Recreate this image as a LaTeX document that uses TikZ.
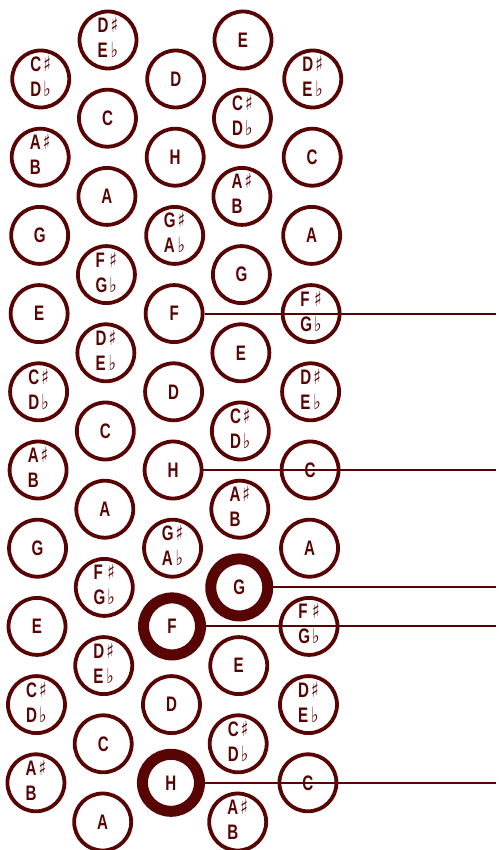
\documentclass[tikz,border=0pt]{standalone}
\usepackage{fontspec}
\setmainfont[FakeStretch=0.72]{Liberation Sans}
\newfontfamily\symf[FakeStretch=0.75]{DejaVu Sans}
\definecolor{ink}{RGB}{88,4,4}
\newcommand\shp{{\symf\bfseries ♯}}
\newcommand\flt{{\symf\bfseries ♭}}
\newcommand\pair[2]{\begin{tabular}{@{}l@{\hspace{2pt}}l@{}}#1&\shp\\#2&\flt\end{tabular}}
\newcommand\CD{\pair{C}{D}}
\newcommand\DE{\pair{D}{E}}
\newcommand\FG{\pair{F}{G}}
\newcommand\GA{\pair{G}{A}}
\newcommand\AB{\begin{tabular}{@{}l@{\hspace{2pt}}l@{}}A&\shp\\B&\end{tabular}}
\tikzset{
  btn/.style={circle, draw=ink, line width=3.8pt, minimum size=57pt, inner sep=0pt,
    text=ink, font=\fontsize{21}{25}\selectfont\bfseries},
  nk/.style={},
  bk/.style={line width=11pt},
  conn/.style={draw=ink, line width=2pt}
}
\begin{document}
\begin{tikzpicture}[x=1pt,y=-1pt]
\useasboundingbox (0,0) rectangle (498,850);
\foreach \l/\s [count=\i from 0] in {\CD/nk,\AB/nk,G/nk,E/nk,\CD/nk,\AB/nk,G/nk,E/nk,\CD/nk,\AB/nk}{
  \pgfmathsetmacro\yy{79+78.2*\i}
  \pgfmathsetmacro\xx{41-0.0068*(\yy-40)}
  \node[btn,\s] (a\i) at (\xx,\yy) {\l};
}
\foreach \l/\s [count=\i from 0] in {\DE/nk,C/nk,A/nk,\FG/nk,\DE/nk,C/nk,A/nk,\FG/nk,\DE/nk,C/nk,A/nk}{
  \pgfmathsetmacro\yy{40+78.2*\i}
  \pgfmathsetmacro\xx{108-0.0068*(\yy-40)}
  \node[btn,\s] (b\i) at (\xx,\yy) {\l};
}
\foreach \l/\s [count=\i from 0] in {D/nk,H/nk,\GA/nk,F/nk,D/nk,H/nk,\GA/nk,F/bk,D/nk,H/bk}{
  \pgfmathsetmacro\yy{79+78.2*\i}
  \pgfmathsetmacro\xx{176-0.0068*(\yy-40)}
  \node[btn,\s] (c\i) at (\xx,\yy) {\l};
}
\foreach \l/\s [count=\i from 0] in {E/nk,\CD/nk,\AB/nk,G/nk,E/nk,\CD/nk,\AB/nk,G/bk,E/nk,\CD/nk,\AB/nk}{
  \pgfmathsetmacro\yy{40+78.2*\i}
  \pgfmathsetmacro\xx{243-0.0068*(\yy-40)}
  \node[btn,\s] (d\i) at (\xx,\yy) {\l};
}
\foreach \l/\s [count=\i from 0] in {\DE/nk,C/nk,A/nk,\FG/nk,\DE/nk,C/nk,A/nk,\FG/nk,\DE/nk,C/nk}{
  \pgfmathsetmacro\yy{79+78.2*\i}
  \pgfmathsetmacro\xx{313-0.0068*(\yy-40)}
  \node[btn,\s] (e\i) at (\xx,\yy) {\l};
}
\coordinate (edge) at (496,0);
\draw[conn] (c3.east) -- (c3.east -| edge);
\draw[conn] (c5.east) -- (c5.east -| edge);
\draw[conn] (d7.east) -- (d7.east -| edge);
\draw[conn] (c7.east) -- (c7.east -| edge);
\draw[conn] (c9.east) -- (c9.east -| edge);
\end{tikzpicture}
\end{document}
